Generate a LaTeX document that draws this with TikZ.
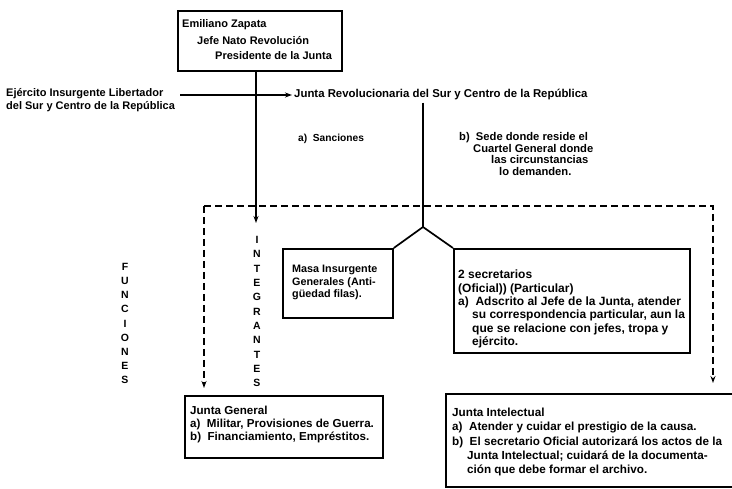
\documentclass[tikz,border=0pt]{standalone}
\usepackage{fontspec}
\setmainfont{Liberation Sans}
\usetikzlibrary{arrows.meta}
\begin{document}
\begin{tikzpicture}[x=1pt,y=-1pt,
  box/.style={draw, line width=1.8pt, inner sep=0pt, anchor=north west},
  txt/.style={inner sep=0pt, anchor=north west, align=left, font=\bfseries\fontsize{11}{13.5}\selectfont},
  conn/.style={line width=1.7pt},
  dsh/.style={line width=1.7pt, dash pattern=on 7pt off 4pt},
  tip/.style={-{Stealth[length=7pt,width=5pt]}},
  vlet/.style={inner sep=0pt, font=\bfseries\fontsize{10.5}{10.5}\selectfont}
]
\useasboundingbox[fill=white] (0,0) rectangle (732,489);

% top box
\node[box, minimum width=164pt, minimum height=60pt] (zap) at (177,10) {};
\node[txt, anchor=west] (z1) at (182,25) {Emiliano Zapata};
\node[txt, anchor=west] (z2) at (197,41) {Jefe Nato Revolución};
\node[txt, anchor=west] (z3) at (215,56) {Presidente de la Junta};

% left label and arrow
\node[txt, anchor=north west, font=\bfseries\fontsize{11}{13}\selectfont] (ej) at (6,88) {Ejército Insurgente Libertador\\del Sur y Centro de la República};
\node[txt, anchor=west, inner sep=2pt, font=\bfseries\fontsize{11.4}{13}\selectfont] (jr) at (292,95) {Junta Revolucionaria del Sur y Centro de la República};
\coordinate (ejs) at (180,95);
\draw[conn,tip] (ejs) -- (jr.west);

% vertical from top box
\coordinate (itip) at (256,223);
\draw[conn,tip] (zap.south -| itip) -- (itip);

% vertical from Junta Revolucionaria to roof
\coordinate (apex) at (423,227);
\draw[conn] (jr.south -| apex) -- (apex);

% sanciones / sede
\node[txt, anchor=west, font=\bfseries\fontsize{10.2}{13}\selectfont] (san) at (298,139) {a)\ \ Sanciones};
\node[txt, anchor=north west, font=\bfseries\fontsize{11.2}{11.8}\selectfont] (sede) at (459,132) {b)\ \ Sede donde reside el\\\hspace*{14pt}Cuartel General donde\\\hspace*{32pt}las circunstancias\\\hspace*{40pt}lo demanden.};

% dashed frame
\coordinate (dl) at (204,206);
\coordinate (dr) at (713,206);
\coordinate (dlt) at (204,388);
\coordinate (drt) at (713,383);
\draw[dsh,tip] (dl) -- (dlt);
\draw[dsh,tip] (dl) -- (dr) -- (drt);

% vertical words
\foreach \l [count=\i] in {I,N,T,E,G,R,A,N,T,E,S}
  \node[vlet] (int\i) at (257,{240+14.3*(\i-1)}) {\l};
\foreach \l [count=\i] in {F,U,N,C,I,O,N,E,S}
  \node[vlet] (fun\i) at (125,{267+14.1*(\i-1)}) {\l};

% middle boxes
\node[box, minimum width=110pt, minimum height=69pt] (masa) at (282,248) {};
\node[txt, font=\bfseries\fontsize{10.8}{12.5}\selectfont] (masat) at (292,265) {Masa Insurgente\\Generales (Anti-\\güedad filas).};
\node[box, minimum width=236pt, minimum height=104pt] (sec) at (453,248) {};
\node[txt, font=\bfseries\fontsize{12}{13.3}\selectfont] (sect) at (458,270) {2 secretarios\\(Oficial)) (Particular)\\a)\ \ Adscrito al Jefe de la Junta, atender\\\hspace*{14pt}su correspondencia particular, aun la\\\hspace*{14pt}que se relacione con jefes, tropa y\\\hspace*{14pt}ejército.};
\draw[conn] (masa.north east) -- (apex) -- (sec.north west);

% bottom boxes
\node[box, minimum width=198pt, minimum height=62pt] (jg) at (184,395) {};
\node[txt, font=\bfseries\fontsize{11.6}{13}\selectfont] (jgt) at (190,406) {Junta General\\a)\ \ Militar, Provisiones de Guerra.\\b)\ \ Financiamiento, Empréstitos.};

\coordinate (jiNE) at (732,394);
\coordinate (jiNW) at (446,394);
\coordinate (jiSW) at (446,487);
\coordinate (jiSE) at (732,487);
\draw[line width=1.8pt] (jiNE) -- (jiNW) -- (jiSW) -- (jiSE);
\node[txt, font=\bfseries\fontsize{11.7}{14.3}\selectfont] (jit) at (452,408) {Junta Intelectual\\a)\ \ Atender y cuidar el prestigio de la causa.\\b)\ \ El secretario Oficial autorizará los actos de la\\\hspace*{15pt}Junta Intelectual; cuidará de la documenta-\\\hspace*{15pt}ción que debe formar el archivo.};
\end{tikzpicture}
\end{document}
